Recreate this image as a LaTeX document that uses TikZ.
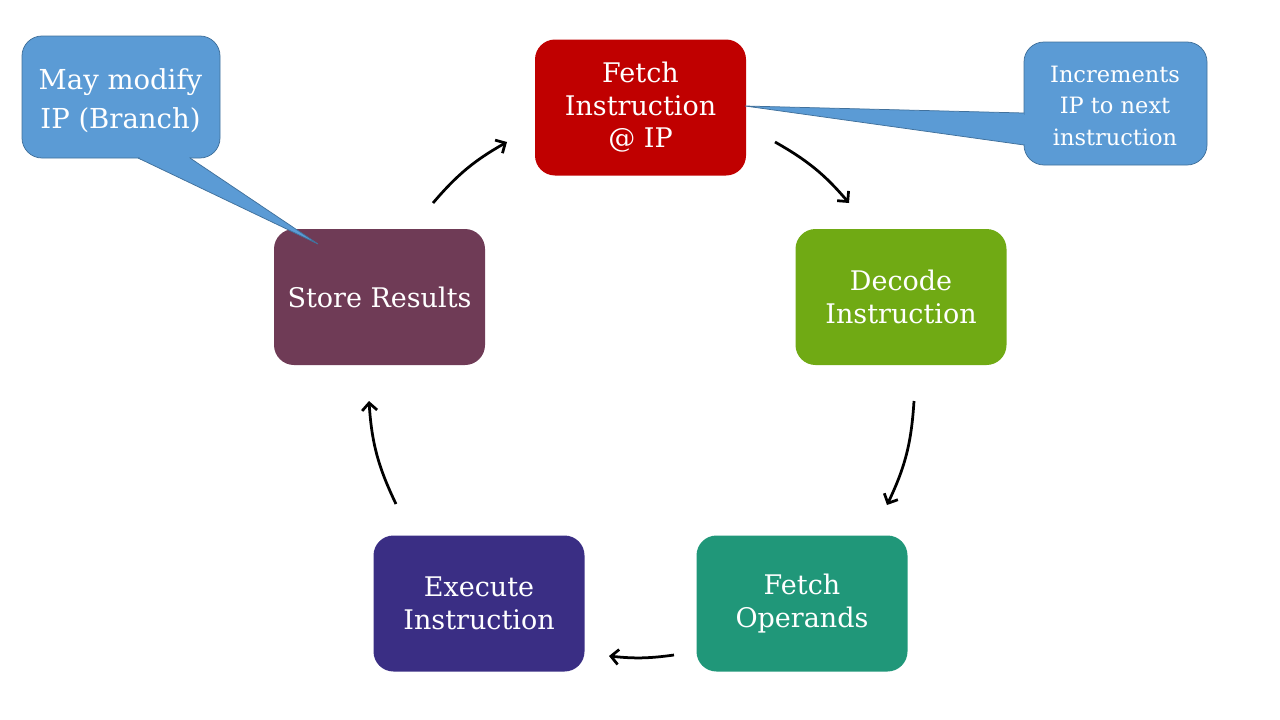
\documentclass[tikz,border=0pt]{standalone}
\usepackage{fontspec}
\setmainfont{DejaVu Serif}
\usetikzlibrary{arrows.meta}
\definecolor{fetchred}{HTML}{C00000}
\definecolor{decodegreen}{HTML}{70AA14}
\definecolor{operteal}{HTML}{209779}
\definecolor{execindigo}{HTML}{3A2E84}
\definecolor{storeplum}{HTML}{6F3B56}
\definecolor{noteblue}{HTML}{5B9BD5}
\definecolor{noteedge}{HTML}{41719C}
\begin{document}
\begin{tikzpicture}[x=1pt,y=-1pt,
  stepbox/.style={rounded corners=20pt, minimum width=211pt, minimum height=136pt,
    inner sep=0pt, text=white, align=center, font=\fontsize{27}{32.5}\selectfont},
  flow/.style={line width=2.75pt, -{Straight Barb[length=7.5pt,width=15pt]}},
  note/.style={fill=noteblue, draw=noteedge, line width=0.75pt, rounded corners=20pt,
    inner sep=0pt},
  notetext/.style={text=white, align=center, inner sep=0pt}
]
\useasboundingbox (0,0) rectangle (1280,720);

% process steps
\node[stepbox, fill=fetchred]    (fetch)  at (640.5,107.5) {Fetch\\Instruction\\@ IP};
\node[stepbox, fill=decodegreen] (decode) at (901,297)     {Decode\\Instruction};
\node[stepbox, fill=operteal]    (oper)   at (802,603.5)   {Fetch\\Operands};
\node[stepbox, fill=execindigo]  (exec)   at (479,603.5)   {Execute\\Instruction};
\node[stepbox, fill=storeplum]   (store)  at (379.5,297)   {Store Results};

% callout: branch
\coordinate (brtip) at (318,244);
\coordinate (brA) at (138,158);
\coordinate (brB) at (190,158);
\node[note, minimum width=198pt, minimum height=122pt] (brnote) at (121,97) {};
\fill[noteblue] (brA) -- (brtip) -- (brB) -- cycle;
\fill[noteblue] (139.5,155) rectangle (188.5,160);
\draw[noteedge, line width=0.75pt] (brA) -- (brtip) -- (brB);
\node[notetext, font=\fontsize{27.5}{39}\selectfont] (brtext) at (120.5,100.5) {May modify\\IP (Branch)};

% callout: increment
\coordinate (iptip) at (745,106);
\coordinate (ipA) at (1024,113);
\coordinate (ipB) at (1024,145);
\node[note, minimum width=183pt, minimum height=123pt] (ipnote) at (1115.5,103.5) {};
\fill[noteblue] (ipA) -- (iptip) -- (ipB) -- cycle;
\fill[noteblue] (1021,114.5) rectangle (1027,143.5);
\draw[noteedge, line width=0.75pt] (ipA) -- (iptip) -- (ipB);
\node[notetext, font=\fontsize{22.5}{31.5}\selectfont] (iptext) at (1115,105.5) {Increments\\IP to next\\instruction};

% cycle arrows
\coordinate (a1s) at (433,203); \coordinate (a1e) at (507,142);
\coordinate (a2s) at (775,142); \coordinate (a2e) at (849,203);
\coordinate (a3s) at (914,401); \coordinate (a3e) at (887,505);
\coordinate (a4s) at (674,655); \coordinate (a4e) at (609,656);
\coordinate (a5s) at (396,504); \coordinate (a5e) at (369,401);
\draw[flow] (a1s) to[bend left=10] (a1e);
\draw[flow] (a2s) to[bend left=10] (a2e);
\draw[flow] (a3s) to[bend left=11] (a3e);
\draw[flow] (a4s) to[bend left=7] (a4e);
\draw[flow] (a5s) to[bend left=11] (a5e);
\end{tikzpicture}
\end{document}
